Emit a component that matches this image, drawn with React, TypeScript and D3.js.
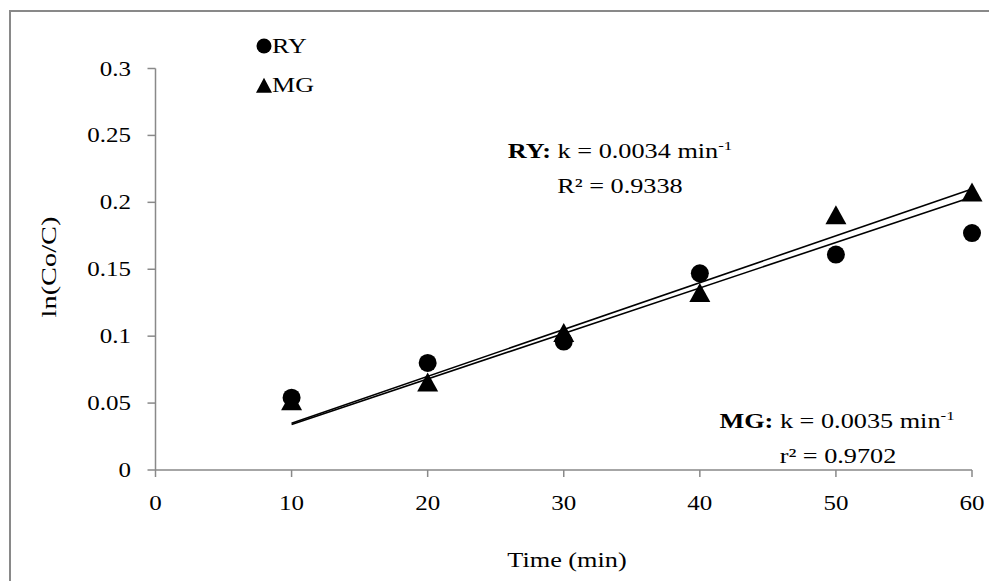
import React from "react";
import * as d3 from "d3";

const times = [10, 20, 30, 40, 50, 60];
const ryValues = [0.054, 0.08, 0.096, 0.147, 0.161, 0.177];
const mgValues = [0.051, 0.065, 0.102, 0.132, 0.19, 0.207];
const ryK = 0.0034;
const mgK = 0.0035;
const xTicks = [0, 10, 20, 30, 40, 50, 60];
const yTicks = [0, 0.05, 0.1, 0.15, 0.2, 0.25, 0.3];
const yTickLabels = ["0", "0.05", "0.1", "0.15", "0.2", "0.25", "0.3"];

const W = 989;
const H = 581;
const FONT = "'Liberation Serif', 'Times New Roman', serif";
const AXIS = "#898989";

type TProps = {
  x: number;
  y: number;
  sx?: number;
  rot?: number;
  size?: number;
  anchor?: string;
  children?: React.ReactNode;
};

function T({ x, y, sx = 1.24, rot = 0, size = 21, anchor = "start", children }: TProps) {
  return (
    <text
      transform={`translate(${x},${y}) rotate(${rot}) scale(${sx},1)`}
      textAnchor={anchor}
      fontSize={size}
      fill="#000"
    >
      {children}
    </text>
  );
}

export default function App() {
  const x = d3.scaleLinear().domain([0, 60]).range([155.5, 972]);
  const y = d3.scaleLinear().domain([0, 0.3]).range([470, 68.5]);
  const trend = (k: number) =>
    d3.line<number>().x((t) => x(t)).y((t) => y(k * t))([10, 60]) || "";
  const tri = (cx: number, cy: number, w: number, h: number) =>
    `M${cx},${cy - h * 0.55}L${cx + w / 2},${cy + h * 0.45}L${cx - w / 2},${cy + h * 0.45}Z`;

  return (
    <svg
      width={W}
      height={H}
      style={{ position: "absolute", left: 0, top: 0, background: "#fff" }}
      fontFamily={FONT}
    >
      <rect x={10} y={11} width={W} height={H} fill="#fff" stroke={AXIS} strokeWidth={2} />
      {/* axes */}
      <line x1={x(0)} x2={x(60)} y1={y(0)} y2={y(0)} stroke={AXIS} strokeWidth={1.5} />
      <line x1={x(0)} x2={x(0)} y1={y(0)} y2={y(0.3)} stroke={AXIS} strokeWidth={1.5} />
      {xTicks.map((t) => (
        <g key={"xt" + t}>
          <line x1={x(t)} x2={x(t)} y1={y(0)} y2={y(0) + 7} stroke={AXIS} strokeWidth={1.5} />
          <T x={x(t)} y={510} anchor="middle" sx={1.19}>
            {t}
          </T>
        </g>
      ))}
      {yTicks.map((v, i) => (
        <g key={"yt" + i}>
          <line x1={x(0) - 8} x2={x(0)} y1={y(v)} y2={y(v)} stroke={AXIS} strokeWidth={1.5} />
          <T x={131} y={y(v) + 7} anchor="end" sx={1.19}>
            {yTickLabels[i]}
          </T>
        </g>
      ))}
      <T x={567} y={567} anchor="middle" sx={1.25}>
        Time (min)
      </T>
      <T x={56} y={267} rot={-90} anchor="middle" sx={1.32} size={21.5}>
        ln(Co/C)
      </T>
      {/* trendlines */}
      <path d={trend(ryK)} stroke="#000" strokeWidth={1.6} fill="none" />
      <path d={trend(mgK)} stroke="#000" strokeWidth={1.6} fill="none" />
      {/* markers */}
      {times.map((t, i) => (
        <circle key={"ry" + t} cx={x(t)} cy={y(ryValues[i])} r={9} fill="#000" />
      ))}
      {times.map((t, i) => (
        <path key={"mg" + t} d={tri(x(t), y(mgValues[i]), 21, 19)} fill="#000" />
      ))}
      {/* legend */}
      <circle cx={264} cy={46} r={7.5} fill="#000" />
      <T x={272} y={53}>RY</T>
      <path d={tri(264, 86, 16, 15)} fill="#000" />
      <T x={272} y={92}>MG</T>
      {/* annotations */}
      <T x={620} y={158} anchor="middle" sx={1.25}>
        <tspan fontWeight="bold">RY:</tspan>
        <tspan> k = 0.0034 min</tspan>
        <tspan fontSize={13.5} dy={-8}>-1</tspan>
      </T>
      <T x={620} y={193} anchor="middle" sx={1.25}>
        R² = 0.9338
      </T>
      <T x={837} y={428} anchor="middle" sx={1.25}>
        <tspan fontWeight="bold">MG:</tspan>
        <tspan> k = 0.0035 min</tspan>
        <tspan fontSize={13.5} dy={-8}>-1</tspan>
      </T>
      <T x={838} y={463} anchor="middle" sx={1.25}>
        r² = 0.9702
      </T>
    </svg>
  );
}
